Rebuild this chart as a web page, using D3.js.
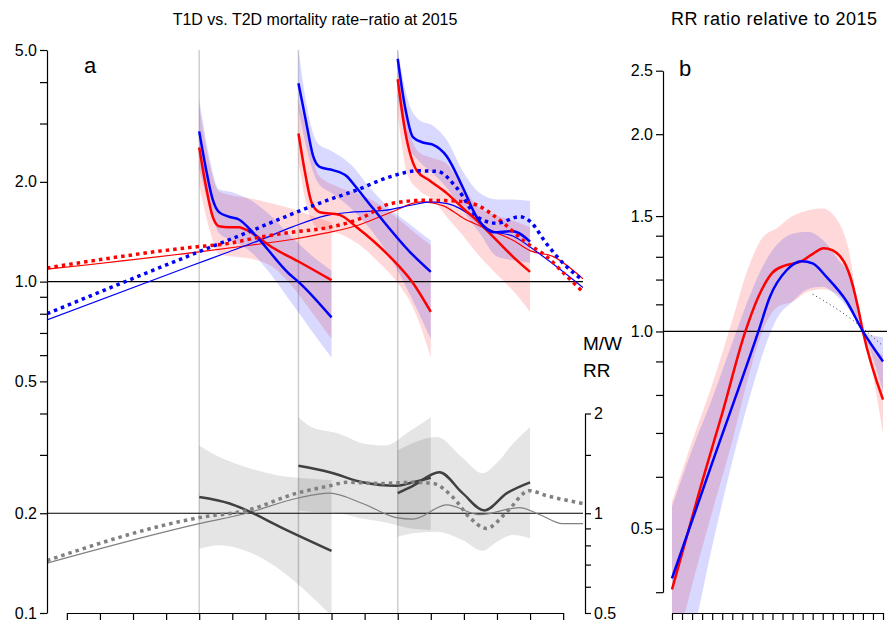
<!DOCTYPE html>
<html>
<head>
<meta charset="utf-8">
<script src="https://cdn.jsdelivr.net/npm/d3@7"></script>
<style>
  body { margin: 0; background: #fff; }
  svg { display: block; font-family: "Liberation Sans", Arial, sans-serif; }
</style>
</head>
<body>
<script>
// ---- panel a data (x = age, y = T1D/T2D rate ratio) ----
const ageTicks = d3.range(20, 96, 5);
const cohortStarts = [40, 55, 70];
const refLines = [1, 0.2];

const thinBlue = [[17,0.766],[39,1.12],[44,1.22],[49,1.33],[54,1.46],[59,1.58],[63,1.62],[68,1.64],[72,1.70],[75,1.74],[77.5,1.72],[82,1.54],[84,1.43],[87.5,1.37],[91,1.23],[98,0.96]];
const thinRed = [[17,1.09],[40,1.23],[48,1.29],[54,1.34],[59,1.40],[64,1.48],[69,1.62],[73.5,1.74],[77,1.69],[80,1.55],[82.5,1.47],[87.5,1.33],[90,1.24],[93.5,1.19],[98,1.02]];
const dotRed = [[17,1.10],[39,1.27],[44,1.30],[49,1.36],[54,1.41],[59,1.45],[64,1.54],[69,1.72],[74,1.76],[79,1.75],[82,1.70],[86,1.50],[89,1.33],[92.5,1.19],[95.5,1.04],[98,0.93]];
const dotBlue = [[17,0.80],[38.6,1.20],[47,1.40],[53.7,1.59],[58.7,1.74],[63.8,1.89],[68.8,2.07],[73,2.16],[76,2.15],[79,1.91],[82,1.57],[85,1.50],[88.4,1.57],[90,1.52],[92.5,1.30],[95.5,1.11],[98,1.01]];

const blue1 = [[40,2.84],[41,2.2],[42,1.78],[43,1.62],[44.5,1.57],[46,1.54],[48.5,1.38],[53.5,1.06],[55.2,0.99],[60,0.78]];
const red1 = [[40,2.54],[41,1.95],[42,1.58],[43,1.47],[44.5,1.46],[46,1.46],[47.5,1.42],[51,1.27],[55,1.15],[60,1.01]];
const blue2 = [[55,3.97],[56.2,3.0],[57.2,2.4],[58.2,2.22],[60.2,2.17],[62.3,2.08],[63.5,1.95],[66.2,1.67],[72,1.22],[75,1.07]];
const red2 = [[55,2.8],[56,2.13],[57,1.73],[58.2,1.62],[61.2,1.59],[63.8,1.46],[68.8,1.19],[72.3,0.99],[75,0.81]];
const blue3 = [[70,4.7],[71.1,3.37],[72.3,2.73],[73.8,2.63],[75.3,2.59],[77.4,2.39],[79.8,1.93],[81.9,1.57],[84.4,1.41],[87.4,1.42],[90,1.32]];
const red3 = [[70,4.08],[71.1,2.86],[72.9,2.16],[74.8,2.02],[77.4,1.85],[79.8,1.67],[82.4,1.50],[85,1.33],[87.4,1.19],[90,1.07]];

// bands: [age, lower, upper]
const blueBand1 = [[40,2.2,3.55],[41.5,1.7,2.4],[43,1.40,1.9],[45,1.33,1.86],[48,1.22,1.75],[51,1.04,1.57],[54,0.86,1.36],[57,0.71,1.2],[60,0.59,1.08]];
const redBand1 = [[40,1.95,3.4],[41.5,1.45,2.3],[43,1.21,1.87],[45,1.19,1.82],[48,1.17,1.78],[51,1.11,1.72],[54,0.97,1.66],[57,0.81,1.58],[60,0.67,1.51]];
const blueBand2 = [[55,3.3,5.0],[56.5,2.4,3.2],[58,1.98,2.6],[60,1.85,2.48],[63,1.66,2.25],[66,1.43,1.9],[69,1.17,1.65],[72,0.90,1.48],[75,0.67,1.33]];
const redBand2 = [[55,2.3,3.5],[56.5,1.62,2.8],[58,1.45,2.1],[61,1.40,1.93],[64,1.30,1.84],[67,1.15,1.72],[70,0.99,1.55],[72.5,0.82,1.41],[75,0.59,1.29]];
const blueBand3 = [[70,3.6,5.0],[71.5,2.6,3.55],[73.3,2.3,3.07],[75.3,2.12,2.96],[77.4,1.92,2.68],[79.8,1.64,2.16],[82.4,1.40,1.85],[85,1.19,1.77],[87.4,1.16,1.77],[90,1.14,1.75]];
const redBand3 = [[70,3.2,5.0],[71.5,2.1,3.0],[73.3,1.88,2.45],[75.3,1.77,2.36],[77.4,1.57,2.27],[79.8,1.38,1.93],[82.4,1.19,1.67],[85,1.05,1.58],[87.4,0.94,1.53],[90,0.81,1.46]];

// M/W RR (right axis)
const grayThin = [[17,0.707],[40,0.93],[47.2,1.0],[54.8,1.11],[59.7,1.15],[64.7,1.07],[69.8,0.97],[72.3,0.96],[77.4,1.06],[82.4,0.99],[88.4,1.04],[91.5,0.99],[94.9,0.93],[98,0.93]];
const grayDot = [[17,0.72],[40,0.97],[47.2,1.02],[54.8,1.15],[59.7,1.21],[62.3,1.24],[67.3,1.23],[72.3,1.24],[75.3,1.23],[78.3,1.12],[80.9,0.97],[83.4,0.90],[86.5,1.01],[89.9,1.17],[92.5,1.13],[98,1.07]];
const gray1 = [[40,1.12],[44.6,1.07],[47.2,1.02],[52.2,0.91],[60,0.77]];
const gray2 = [[55,1.39],[59.7,1.33],[64.7,1.24],[69.8,1.21],[72.3,1.24],[75,1.28]];
const gray3 = [[70,1.15],[72.3,1.21],[76.3,1.33],[79.8,1.15],[83.1,1.02],[86.5,1.15],[90,1.24]];
const grayBand1 = [[40,0.78,1.6],[43,0.80,1.48],[47,0.77,1.38],[52,0.68,1.30],[57,0.56,1.27],[60,0.49,1.26]];
const grayBand2 = [[55,1.02,1.95],[57,1.01,1.82],[61,1.0,1.74],[65,0.96,1.62],[68,0.94,1.60],[72,0.90,1.78],[75,0.89,1.95]];
const grayBand3 = [[70,0.85,1.55],[72.3,0.87,1.63],[75.9,0.88,1.70],[79.8,0.83,1.47],[82.8,0.77,1.32],[85,0.82,1.42],[87.4,0.86,1.62],[90,0.84,1.82]];

// ---- panel b data (x = calendar year, RR ratio relative to 2015) ----
const yearTicks = d3.range(1996, 2018);
const bRed = [[1996,0.404],[1999,0.59],[2001,0.75],[2003.3,1.0],[2004.6,1.13],[2006,1.23],[2007.2,1.26],[2008.9,1.28],[2009.9,1.31],[2011.1,1.34],[2012,1.33],[2013.6,1.23],[2014.5,1.09],[2015,1.0],[2017,0.787]];
const bBlue = [[1996,0.42],[2000,0.63],[2004.6,1.0],[2005.75,1.13],[2007.4,1.24],[2008.9,1.28],[2010,1.27],[2011.4,1.21],[2013.4,1.11],[2015,1.0],[2017,0.90]];
const bDot = [[2010,1.14],[2014,1.04],[2017,0.95]];
const bRedBand = [[1996,0.31,0.55],[1998,0.41,0.68],[2000,0.53,0.83],[2002,0.68,1.04],[2003.5,0.84,1.24],[2005,1.0,1.39],[2006.5,1.09,1.44],[2008,1.11,1.50],[2009.5,1.15,1.53],[2011,1.16,1.54],[2012,1.15,1.51],[2013.5,1.10,1.35],[2015,1.0,1.0],[2017,0.70,0.92]];
const bBlueBand = [[1996,0.27,0.54],[1998,0.34,0.66],[2000,0.47,0.79],[2002.3,0.66,0.99],[2004,0.82,1.16],[2005.3,0.95,1.28],[2006.5,1.05,1.36],[2008,1.11,1.41],[2009.5,1.16,1.42],[2011,1.17,1.38],[2012.5,1.13,1.29],[2014,1.06,1.19],[2015,1.0,1.0],[2017,0.81,0.98]];

const RED = '#ff0000', BLUE = '#0000ff';

const svg = d3.select('body').append('svg')
  .attr('width', 887).attr('height', 620);

// ================= panel a =================
const x = d3.scaleLinear().domain([17, 98]).range([47, 583]);
const y = d3.scaleLog().domain([0.1, 5]).range([613, 50]);
const yR = d3.scaleLog().domain([0.5, 2]).range([y(0.1), y(0.4)]);

svg.append('clipPath').attr('id', 'clipA')
  .append('rect').attr('x', 47).attr('y', 50).attr('width', 536).attr('height', 563);

const a = svg.append('g').attr('clip-path', 'url(#clipA)');

a.selectAll('line.cohort').data(cohortStarts).join('line')
  .attr('x1', d => x(d)).attr('x2', d => x(d))
  .attr('y1', y(5)).attr('y2', y(0.1))
  .attr('stroke', '#cfcfcf').attr('stroke-width', 1.5);

function band(ys) {
  return d3.area().x(d => x(d[0])).y0(d => ys(d[1])).y1(d => ys(d[2])).curve(d3.curveMonotoneX);
}
function line(xs, ys) {
  return d3.line().x(d => xs(d[0])).y(d => ys(d[1])).curve(d3.curveMonotoneX);
}

[grayBand1, grayBand2, grayBand3].forEach(b => {
  a.append('path').attr('d', band(yR)(b)).attr('fill', '#000').attr('fill-opacity', 0.1);
});
[[redBand1, RED], [blueBand1, BLUE], [redBand2, RED], [blueBand2, BLUE], [redBand3, RED], [blueBand3, BLUE]]
  .forEach(([b, c]) => {
    a.append('path').attr('d', band(y)(b)).attr('fill', c).attr('fill-opacity', 0.15);
  });

a.selectAll('line.ref').data(refLines).join('line')
  .attr('x1', 47).attr('x2', 583)
  .attr('y1', d => y(d)).attr('y2', d => y(d))
  .attr('stroke', '#000').attr('stroke-width', 1.2);

function drawLine(g, data, xs, ys, color, width, dash) {
  g.append('path').attr('d', line(xs, ys)(data))
    .attr('fill', 'none').attr('stroke', color).attr('stroke-width', width)
    .attr('stroke-dasharray', dash || null);
}

drawLine(a, grayThin, x, yR, '#808080', 1.2);
drawLine(a, thinRed, x, y, RED, 1.2);
drawLine(a, thinBlue, x, y, BLUE, 1.2);
[gray1, gray2, gray3].forEach(d => drawLine(a, d, x, yR, '#404040', 2.5));
[red1, red2, red3].forEach(d => drawLine(a, d, x, y, RED, 2.5));
[blue1, blue2, blue3].forEach(d => drawLine(a, d, x, y, BLUE, 2.5));
drawLine(a, grayDot, x, yR, '#808080', 3.5, '3.5,4');
drawLine(a, dotRed, x, y, RED, 3.5, '3.5,4');
drawLine(a, dotBlue, x, y, BLUE, 3.5, '3.5,4');

// axes
const leftTicks = [0.1, 0.2, 0.3, 0.4, 0.5, 0.6, 0.7, 0.8, 0.9, 1, 2, 3, 4, 5];
const leftLabels = [0.1, 0.2, 0.5, 1, 2, 5];
svg.append('g').attr('transform', 'translate(47,0)')
  .call(d3.axisLeft(y).tickValues(leftTicks).tickSize(7).tickSizeOuter(0)
    .tickFormat(d => leftLabels.includes(d) ? d3.format('.1f')(d) : ''));

const xa = d3.scaleLinear().domain([20, 95]).range([x(20), x(95)]);
svg.append('g').attr('transform', 'translate(0,613)')
  .call(d3.axisBottom(xa).tickValues(ageTicks).tickSize(7).tickSizeOuter(0).tickFormat(''));

const rightTicks = [0.5, 0.6, 0.7, 0.8, 0.9, 1, 1.5, 2];
const rightLabels = [0.5, 1, 2];
svg.append('g').attr('transform', 'translate(585,0)')
  .call(d3.axisRight(yR).tickValues(rightTicks).tickSize(6).tickSizeOuter(0)
    .tickFormat(d => rightLabels.includes(d) ? String(d) : ''));

svg.append('text').attr('x', 583).attr('y', 350).attr('font-size', 19).text('M/W');
svg.append('text').attr('x', 583).attr('y', 377).attr('font-size', 19).text('RR');
svg.append('text').attr('x', 84).attr('y', 73).attr('font-size', 22).text('a');
svg.append('text').attr('x', 315).attr('y', 25).attr('font-size', 16).attr('text-anchor', 'middle')
  .text('T1D vs. T2D mortality rate\u2212ratio at 2015');

// ================= panel b =================
const xb = d3.scaleLinear().domain([1996, 2017]).range([672, 883]);
const yb = d3.scaleLog().domain([0.4, 2.5]).range([592.2, 70.7]);

svg.append('clipPath').attr('id', 'clipB')
  .append('rect').attr('x', 663).attr('y', 60).attr('width', 224).attr('height', 553);
const b = svg.append('g').attr('clip-path', 'url(#clipB)');

const bandB = d3.area().x(d => xb(d[0])).y0(d => yb(d[1])).y1(d => yb(d[2])).curve(d3.curveMonotoneX);
b.append('path').attr('d', bandB(bRedBand)).attr('fill', RED).attr('fill-opacity', 0.15);
b.append('path').attr('d', bandB(bBlueBand)).attr('fill', BLUE).attr('fill-opacity', 0.15);

b.append('line').attr('x1', 663).attr('x2', 887).attr('y1', yb(1)).attr('y2', yb(1))
  .attr('stroke', '#000').attr('stroke-width', 1.2);

drawLine(b, bDot, xb, yb, '#333', 1, '1,3');
drawLine(b, bRed, xb, yb, RED, 2.5);
drawLine(b, bBlue, xb, yb, BLUE, 2.5);

const bTicks = [0.4, 0.5, 0.6, 0.7, 0.8, 0.9, 1, 1.1, 1.2, 1.3, 1.4, 1.5, 2, 2.5];
const bLabels = [0.5, 1, 1.5, 2, 2.5];
svg.append('g').attr('transform', 'translate(663,0)')
  .call(d3.axisLeft(yb).tickValues(bTicks).tickSize(7).tickSizeOuter(0)
    .tickFormat(d => bLabels.includes(d) ? d3.format('.1f')(d) : ''));
svg.append('g').attr('transform', 'translate(0,613)')
  .call(d3.axisBottom(xb).tickValues(yearTicks).tickSize(7).tickSizeOuter(0).tickFormat(''));

svg.append('text').attr('x', 679).attr('y', 76).attr('font-size', 22).text('b');
svg.append('text').attr('x', 671).attr('y', 25).attr('font-size', 18).attr('letter-spacing', 0.5)
  .text('RR ratio relative to 2015');

svg.selectAll('.tick text').attr('font-size', 16).attr('fill', '#000')
  .attr('font-family', '"Liberation Sans", Arial, sans-serif');
svg.selectAll('.domain, .tick line').attr('stroke', '#000').attr('stroke-width', 1.2);
</script>
</body>
</html>
